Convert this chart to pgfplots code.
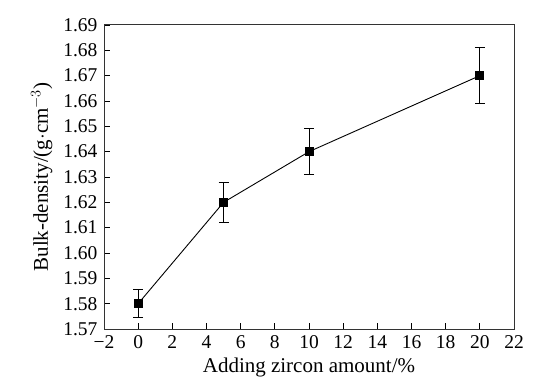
\documentclass[border=0pt]{standalone}
\usepackage{pgfplots}
\pgfplotsset{compat=1.18}
\usepackage{fontspec}
\setmainfont{Liberation Serif}
\begin{document}
\fontsize{19}{22}\selectfont
\begin{tikzpicture}
\begin{axis}[name=ax,
  scale only axis, width=410pt, height=304pt,
  xmin=-2, xmax=22, ymin=1.57, ymax=1.69,
  xtick={-2,0,...,22},
  xticklabels={−2,0,2,4,6,8,10,12,14,16,18,20,22},
  ytick={1.57,1.58,...,1.69},
  yticklabel style={/pgf/number format/.cd,fixed,fixed zerofill,precision=2},
  /pgf/number format/assume math mode=true,
  tick align=inside, major tick length=6pt,
  xtick pos=bottom, ytick pos=left,
  axis line style={line width=1pt, black!80},
  tick style={line width=0.8pt, black},
  xlabel={Adding zircon amount/\%},
  ylabel={Bulk-density/(g$\cdot$cm$^{-3}$)},
  xlabel style={yshift=4pt},
  ylabel style={yshift=-2pt},
  tick label style={font=\fontsize{19.5}{22}\selectfont},
  label style={font=\fontsize{21}{24}\selectfont},
]
\addplot[black, line width=0.9pt, mark=square*, mark size=4pt,
  error bars/.cd, y dir=both, y explicit, error mark options={rotate=90, mark size=5pt, line width=0.8pt}, error bar style={line width=0.8pt}]
  coordinates {
  (0,1.580) +- (0,0.0055)
  (5,1.620) +- (0,0.008)
  (10,1.640) +- (0,0.009)
  (20,1.670) +- (0,0.011)
};
\end{axis}
\path ([xshift=-104pt,yshift=-57pt]ax.south west) rectangle ([xshift=26pt,yshift=25pt]ax.north east);
\end{tikzpicture}
\end{document}
